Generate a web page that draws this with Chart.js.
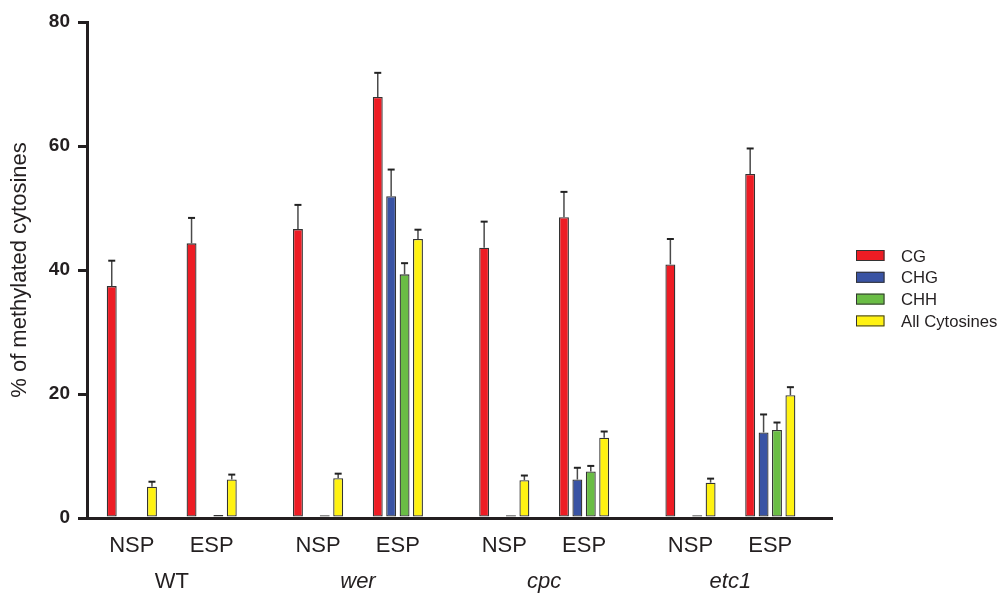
<!DOCTYPE html>
<html><head><meta charset="utf-8">
<script src="https://cdn.jsdelivr.net/npm/chart.js@4.4.1/dist/chart.umd.min.js"></script>
<style>html,body{margin:0;padding:0;background:#fff;}canvas{display:block;}</style>
</head><body>
<canvas id="c" width="1001" height="594"></canvas>
<script>
// ---- data ----
const categories = ['NSP', 'ESP', 'NSP', 'ESP', 'NSP', 'ESP', 'NSP', 'ESP'];
const genotypes = ['WT', 'wer', 'cpc', 'etc1'];
const seriesNames = ['CG', 'CHG', 'CHH', 'All Cytosines'];
const cgValues  = [37.4, 44.3, 46.6, 67.9, 43.6, 48.5, 40.9, 55.5];
const cgErr     = [4.1, 4.1, 3.9, 3.9, 4.2, 4.1, 4.1, 4.1];
const chgValues = [0, 0, 0, 51.9, 0, 6.2, 0, 13.8];
const chgErr    = [0, 0, 0, 4.3, 0, 1.9, 0, 2.9];
const chhValues = [0, 0.5, 0.45, 39.3, 0.45, 7.5, 0.45, 14.2];
const chhErr    = [0, 0, 0, 1.8, 0, 0.9, 0, 1.2];
const allValues = [5.05, 6.2, 6.4, 45.0, 6.1, 12.95, 5.7, 19.8];
const allErr    = [0.8, 0.8, 0.75, 1.5, 0.75, 1.0, 0.65, 1.3];
const yTickValues = [0, 20, 40, 60, 80];
const yTitle = '% of methylated cytosines';

// ---- styling / layout ----
const FONT = '"Liberation Sans", Arial, Helvetica, sans-serif';
const INK = '#231f20';
const colors = ['#ED1C24', '#3953A4', '#6ABD45', '#FFF212'];
const italicGenotype = [false, true, true, true];
const xPos = categories.map((c, i) => Math.floor(i / 2) * 7 + (i % 2) * 3);
const genoPos = genotypes.map((g, i) => i * 7 + 1.5);
const X_MIN = -1.686, X_MAX = 26.32;

const seriesValues = [cgValues, chgValues, chhValues, allValues];
const seriesErrors = [cgErr, chgErr, chhErr, allErr];

const datasets = seriesNames.map((name, s) => ({
  label: name,
  data: seriesValues[s].map((v, i) => ({x: xPos[i], y: v})),
  errors: seriesErrors[s],
  backgroundColor: colors[s],
  borderColor: '#333333',
  borderWidth: 1.3,
  borderSkipped: false,
  categoryPercentage: 0.672,
  barPercentage: 0.74
}));

const errorBarPlugin = {
  id: 'errorBars',
  afterDatasetsDraw(chart) {
    const ctx = chart.ctx;
    const yScale = chart.scales.y;
    chart.data.datasets.forEach((ds, di) => {
      const meta = chart.getDatasetMeta(di);
      meta.data.forEach((bar, i) => {
        const e = ds.errors[i];
        if (!e) return;
        const v = ds.data[i].y;
        const yTop = yScale.getPixelForValue(v + e);
        const x = bar.x;
        ctx.save();
        ctx.strokeStyle = '#4a4a4a';
        ctx.lineWidth = 1.5;
        ctx.beginPath(); ctx.moveTo(x, bar.y); ctx.lineTo(x, yTop); ctx.stroke();
        ctx.strokeStyle = '#222222';
        ctx.lineWidth = 2;
        ctx.beginPath(); ctx.moveTo(x - 3.5, yTop); ctx.lineTo(x + 3.5, yTop); ctx.stroke();
        ctx.restore();
      });
    });
  }
};

const legendPlugin = {
  id: 'sideLegend',
  afterDraw(chart) {
    const ctx = chart.ctx;
    const x0 = chart.chartArea.right + 24;
    const y0 = 255.5, step = 21.8;
    ctx.save();
    chart.data.datasets.forEach((ds, i) => {
      const cy = y0 + i * step;
      ctx.fillStyle = ds.backgroundColor;
      ctx.fillRect(x0, cy - 5.5, 28.5, 11);
      ctx.strokeStyle = '#333333';
      ctx.lineWidth = 1;
      ctx.strokeRect(x0 + 0.5, cy - 5, 27.5, 10);
      ctx.fillStyle = INK;
      ctx.font = '16.7px ' + FONT;
      ctx.textAlign = 'left';
      ctx.textBaseline = 'alphabetic';
      ctx.fillText(ds.label, x0 + 45, cy + 6);
    });
    ctx.restore();
  }
};

new Chart(document.getElementById('c'), {
  type: 'bar',
  data: {datasets},
  plugins: [errorBarPlugin, legendPlugin],
  options: {
    responsive: false,
    animation: false,
    devicePixelRatio: 1,
    layout: {padding: {top: 22, right: 169, bottom: 0, left: 0}},
    plugins: {legend: {display: false}, tooltip: {enabled: false}},
    scales: {
      x: {
        type: 'linear', position: 'bottom', weight: 0,
        min: X_MIN, max: X_MAX, bounds: 'data', offset: false,
        grid: {display: false, drawTicks: false, offset: false},
        border: {display: true, color: INK, width: 3},
        afterBuildTicks: a => { a.ticks = xPos.map(v => ({value: v})); },
        afterFit: a => { a.height = 40; },
        ticks: {
          autoSkip: false, maxRotation: 0, minRotation: 0, padding: 15, color: INK,
          font: {family: FONT, size: 22},
          callback: (v, i) => categories[i]
        }
      },
      x2: {
        type: 'linear', position: 'bottom', weight: 1,
        min: X_MIN, max: X_MAX, bounds: 'data', offset: false,
        grid: {display: false, drawTicks: false},
        border: {display: false},
        afterBuildTicks: a => { a.ticks = genoPos.map(v => ({value: v})); },
        afterFit: a => { a.height = 36; },
        ticks: {
          autoSkip: false, maxRotation: 0, minRotation: 0, padding: 11, color: INK,
          font: c => ({family: FONT, size: 22, style: italicGenotype[c.index] ? 'italic' : 'normal'}),
          callback: (v, i) => genotypes[i]
        }
      },
      y: {
        type: 'linear', position: 'left',
        min: 0, max: 80,
        afterBuildTicks: a => { a.ticks = yTickValues.map(v => ({value: v})); },
        afterFit: a => { a.width = 87; },
        grid: {display: true, drawOnChartArea: false, drawTicks: true, tickLength: 9, lineWidth: 3, color: INK},
        border: {display: true, color: INK, width: 3},
        ticks: {padding: 8, color: INK, font: {family: FONT, size: 19, weight: 'bold'}},
        title: {display: true, text: yTitle, color: INK, font: {family: FONT, size: 22}, padding: {top: 7, bottom: 0}}
      }
    }
  }
});
</script>
</body></html>
